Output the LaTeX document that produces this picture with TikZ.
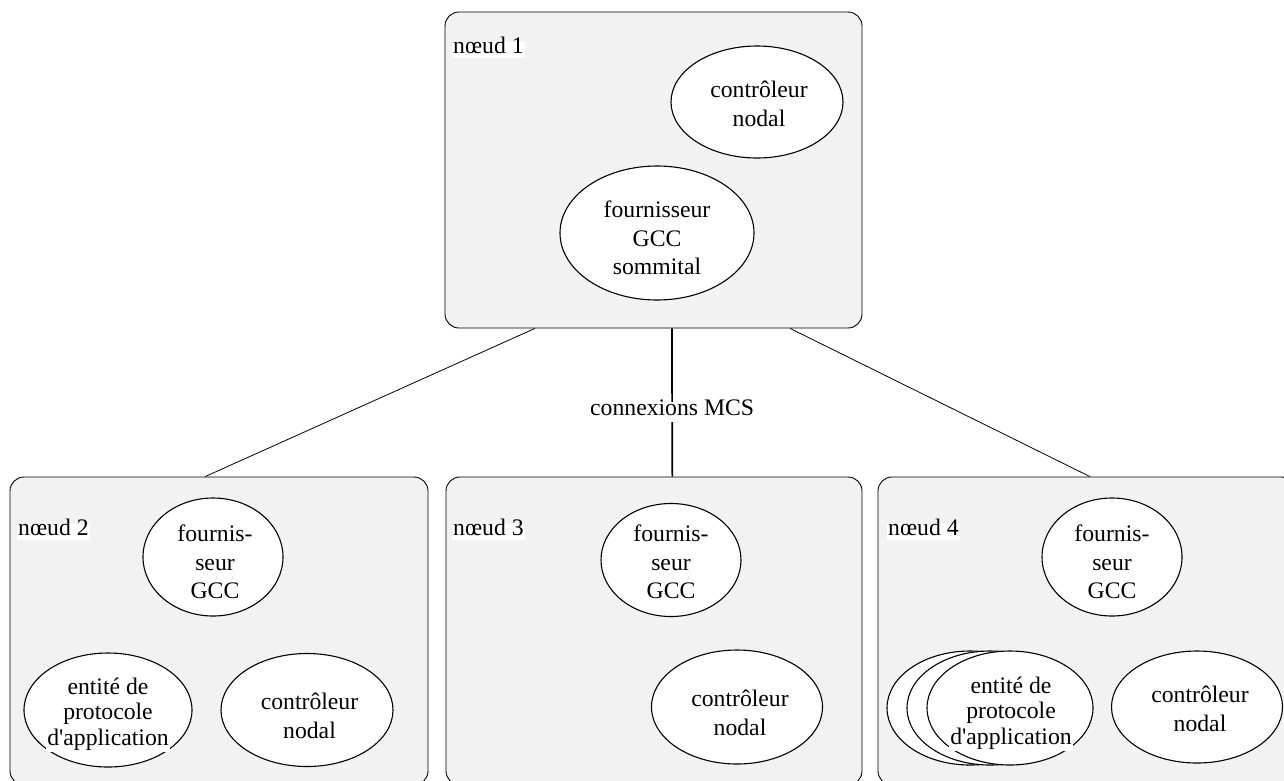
\documentclass[tikz,border=0pt]{standalone}
\usepackage{fontspec}
\setmainfont{Liberation Serif}
\usetikzlibrary{shapes.geometric,calc}
\definecolor{panel}{RGB}{242,242,242}
\begin{document}
\begin{tikzpicture}[x=1pt,y=-1pt,
  every node/.style={font=\fontsize{23.7}{28.5}\selectfont},
  nodebox/.style={rectangle, draw=black, line width=0.9pt, fill=panel,
    rounded corners=14pt, inner sep=0pt},
  blob/.style={ellipse, draw=black, line width=1.1pt, fill=white, inner sep=0pt},
  lbl/.style={fill=white, align=center, inner xsep=1pt, inner ysep=5pt},
  tag/.style={fill=white, anchor=west, inner xsep=1pt, inner ysep=4pt,
    text height=0.72em, text depth=0.05em},
  link/.style={line width=0.8pt},
  trunk/.style={line width=1.7pt}]
\useasboundingbox (0,0) rectangle (1284,780);
\clip (0,0) rectangle (1284,780);

% the four nodes of the conference
\node[nodebox, minimum width=417pt, minimum height=316pt] (n1) at (653.5,170) {};
\node[nodebox, minimum width=418pt, minimum height=308pt] (n2) at (219,631) {};
\node[nodebox, minimum width=416pt, minimum height=308pt] (n3) at (654,631) {};
\node[nodebox, minimum width=417pt, minimum height=308pt] (n4) at (1086.5,631) {};

\node[tag] (t1) at (452,50) {nœud 1};
\node[tag] (t2) at (17,532) {nœud 2};
\node[tag] (t3) at (452,532) {nœud 3};
\node[tag] (t4) at (887,532) {nœud 4};

% MCS connections
\draw[link] ($(n1.south west)!0.216!(n1.south east)$) -- ($(n2.north west)!0.467!(n2.north east)$);
\draw[link] ($(n1.south west)!0.827!(n1.south east)$) -- ($(n4.north west)!0.508!(n4.north east)$);
\draw[trunk] ($(n1.south west)!0.544!(n1.south east)$) --
  node[pos=0.563, fill=white, inner xsep=1pt, inner ysep=6.5pt,
       text height=0.72em, text depth=0pt] (mcs) {connexions MCS}
  ($(n3.north west)!0.544!(n3.north east)$);

% node 1
\node[blob, minimum width=172pt, minimum height=112pt] (c1) at (757,102) {};
\node[lbl] (c1l) at (759,104) {contrôleur\\nodal};
\node[blob, minimum width=194pt, minimum height=134pt] (g1) at (657,233) {};
\node[lbl] (g1l) at (657,238) {fournisseur\\GCC\\sommital};

% node 2
\node[blob, minimum width=140pt, minimum height=118pt] (g2) at (213,557) {};
\node[lbl] (g2l) at (215,562) {fournis-\\seur\\GCC};
\node[blob, minimum width=168pt, minimum height=114pt] (a2) at (108,710) {};
\node[lbl, font=\fontsize{23.7}{25.5}\selectfont, inner ysep=2pt] (a2l) at (108,714)
  {entité de\\protocole\\d\textquotesingle application};
\node[blob, minimum width=172pt, minimum height=113pt] (c2) at (307,710) {};
\node[lbl] (c2l) at (309.5,716) {contrôleur\\nodal};

% node 3
\node[blob, minimum width=140pt, minimum height=113pt] (g3) at (671,560) {};
\node[lbl] (g3l) at (671,562) {fournis-\\seur\\GCC};
\node[blob, minimum width=171pt, minimum height=114pt] (c3) at (737,707) {};
\node[lbl] (c3l) at (740,713) {contrôleur\\nodal};

% node 4
\node[blob, minimum width=140pt, minimum height=118pt] (g4) at (1112,557) {};
\node[lbl] (g4l) at (1112,562) {fournis-\\seur\\GCC};
\node[blob, minimum width=166pt, minimum height=114pt] (a4c) at (970,708) {};
\node[blob, minimum width=166pt, minimum height=114pt] (a4b) at (990,708) {};
\node[blob, minimum width=166pt, minimum height=114pt] (a4a) at (1010,708) {};
\node[lbl, font=\fontsize{23.7}{25.5}\selectfont, inner ysep=2pt] (a4l) at (1011,713)
  {entité de\\protocole\\d\textquotesingle application};
\node[blob, minimum width=171pt, minimum height=112pt] (c4) at (1197,707) {};
\node[lbl] (c4l) at (1200,709) {contrôleur\\nodal};
\end{tikzpicture}
\end{document}
